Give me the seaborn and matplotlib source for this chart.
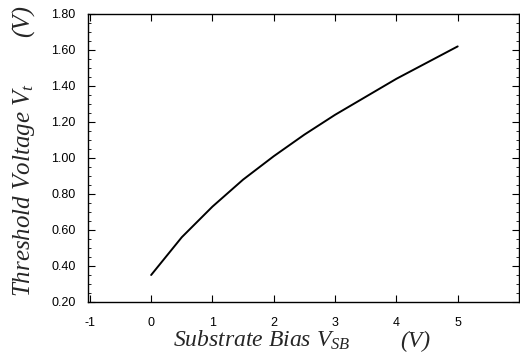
import matplotlib
matplotlib.use("Agg")
import matplotlib.pyplot as plt
import seaborn as sns
import pandas as pd
from matplotlib.ticker import MultipleLocator, FixedLocator

vsb = [0.0, 0.5, 1.0, 1.5, 2.0, 2.5, 3.0, 3.5, 4.0, 4.5, 5.0]
vt = [0.35, 0.56, 0.73, 0.88, 1.01, 1.13, 1.24, 1.34, 1.44, 1.53, 1.62]
xticks = [-1, 0, 1, 2, 3, 4, 5]
yticks = [0.20, 0.40, 0.60, 0.80, 1.00, 1.20, 1.40, 1.60, 1.80]

sns.set_theme(style="ticks")
plt.rcParams['font.family'] = ['Liberation Sans', 'DejaVu Sans']
plt.rcParams['mathtext.fontset'] = 'custom'
plt.rcParams['mathtext.it'] = 'Liberation Serif:italic'
plt.rcParams['mathtext.rm'] = 'Liberation Serif:italic'

df = pd.DataFrame({"vsb": vsb, "vt": vt})

fig = plt.figure(figsize=(5.2, 3.63), dpi=100)
ax = fig.add_axes([88/520, 1 - 302/363, (519-88)/520, (302-14)/363])
sns.lineplot(data=df, x="vsb", y="vt", ax=ax, color="black", linewidth=1.4)

ax.set_xlim(-1.03, 6.0)
ax.set_ylim(0.20, 1.80)
ax.xaxis.set_major_locator(FixedLocator(xticks))
ax.yaxis.set_major_locator(FixedLocator(yticks))
ax.yaxis.set_minor_locator(MultipleLocator(0.05))
ax.set_xticklabels([str(t) for t in xticks])
ax.set_yticklabels([f"{t:.2f}" for t in yticks])
ax.tick_params(axis='both', which='major', direction='in', length=5, width=0.8,
               top=True, right=True, labelsize=9, colors='black')
ax.tick_params(axis='x', which='major', pad=11)
ax.tick_params(axis='y', which='major', pad=9)
ax.tick_params(axis='y', which='minor', direction='in', length=2.5, width=0.7,
               left=True, right=True)
for s in ax.spines.values():
    s.set_linewidth(1.0)
    s.set_color('black')

ax.set_xlabel("")
ax.set_ylabel("")
fig.text(173/520, 1 - 347/363, "Substrate Bias $V_{SB}$", fontsize=17,
         family='Liberation Serif', style='italic', ha='left', va='baseline')
fig.text(400/520, 1 - 347/363, "(V)", fontsize=17,
         family='Liberation Serif', style='italic', ha='left', va='baseline')
fig.text(24/520, 1 - 297/363, "Threshold Voltage $V_t$", fontsize=18, rotation=90,
         family='Liberation Serif', style='italic', ha='center', va='bottom')
fig.text(24/520, 1 - 37/363, "(V)", fontsize=18, rotation=90,
         family='Liberation Serif', style='italic', ha='center', va='bottom')

fig.savefig("out.png", dpi=100)
